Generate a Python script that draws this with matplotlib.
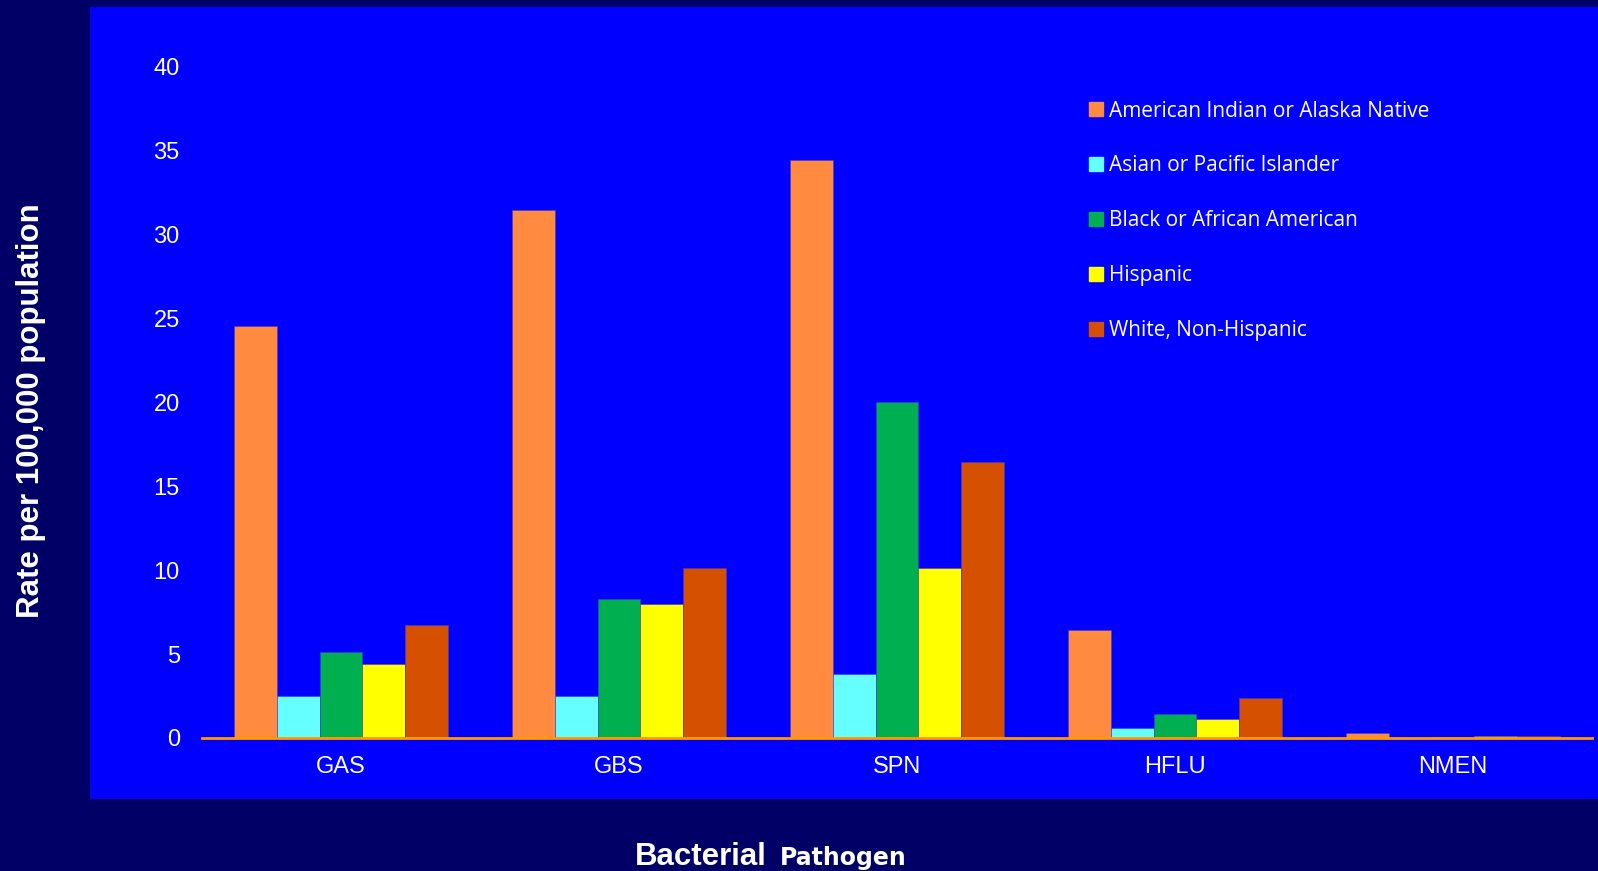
import matplotlib.pyplot as plt
import matplotlib.patches as mpatches
import numpy as np

# bacterial pathogens on the x-axis
pathogens = ["GAS", "GBS", "SPN", "HFLU", "NMEN"]

# race / ethnicity groups
groups = ["American Indian or Alaska Native", "Asian or Pacific Islander",
          "Black or African American", "Hispanic", "White, Non-Hispanic"]

# rate per 100,000 population, one list per group
am_indian = [24.5, 31.4, 34.4, 6.4, 0.3]
asian = [2.5, 2.5, 3.8, 0.6, 0.02]
black = [5.1, 8.3, 20.0, 1.4, 0.03]
hispanic = [4.4, 8.0, 10.1, 1.15, 0.12]
white = [6.7, 10.1, 16.4, 2.4, 0.14]

colors = ["#FF8A40", "#66FFFF", "#00B050", "#FFFF00", "#D55000"]

fig = plt.figure(figsize=(15.98, 8.71), dpi=100)
fig.patch.set_facecolor("#000066")

# bright blue panel behind the plot
fig.patches.append(mpatches.Rectangle((0.0563, 0.0827), 0.9437, 0.9093,
                                      transform=fig.transFigure,
                                      facecolor="#0000FF", zorder=-1))

ax = fig.add_axes([0.1264, 0.1527, 0.8698, 0.7715])
ax.patch.set_visible(False)
ax.set_zorder(1)

x = np.arange(len(pathogens))
width = 0.154
series = [am_indian, asian, black, hispanic, white]
for i, vals in enumerate(series):
    ax.bar(x + (i - 2) * width, vals, width, color=colors[i],
           edgecolor="#4040C0", linewidth=0.4, label=groups[i])

ax.set_xlim(-0.5, 4.5)
ax.set_ylim(0, 40)
ax.set_yticks(range(0, 41, 5))
ax.set_xticks(x)
ax.set_xticklabels(pathogens)

for s in ["top", "right", "left"]:
    ax.spines[s].set_visible(False)
ax.spines["bottom"].set_color("#FF9900")
ax.spines["bottom"].set_linewidth(2)

ax.tick_params(axis="both", length=0, colors="white", labelsize=17)
ax.tick_params(axis="y", pad=16)
ax.tick_params(axis="x", pad=13)
for lab in ax.get_xticklabels() + ax.get_yticklabels():
    lab.set_fontfamily("Liberation Sans")

# legend with small square swatches
handles = [mpatches.Patch(color=c) for c in colors]
leg = ax.legend(handles, groups, loc="upper left",
                bbox_to_anchor=(0.6385, 0.9485), frameon=False,
                prop={"family": "Open Sans", "size": 15},
                handlelength=0.64, handleheight=0.64, handletextpad=0.28,
                labelspacing=1.625, borderpad=0, borderaxespad=0)
for t in leg.get_texts():
    t.set_color("white")

# axis titles
fig.text(0.0195, 0.528, "Rate per 100,000 population", rotation=90,
         color="white", fontsize=22.5, fontweight="bold",
         family="Liberation Sans", ha="center", va="center")
fig.text(0.480, 0.007, "Bacterial", color="white", fontsize=22.5,
         fontweight="bold", family="Liberation Sans", ha="right",
         va="baseline")
fig.text(0.488, 0.007, "Pathogen", color="white", fontsize=17,
         fontweight="bold", family="DejaVu Sans", ha="left",
         va="baseline")

fig.savefig("out.png", dpi=100, facecolor=fig.get_facecolor())
